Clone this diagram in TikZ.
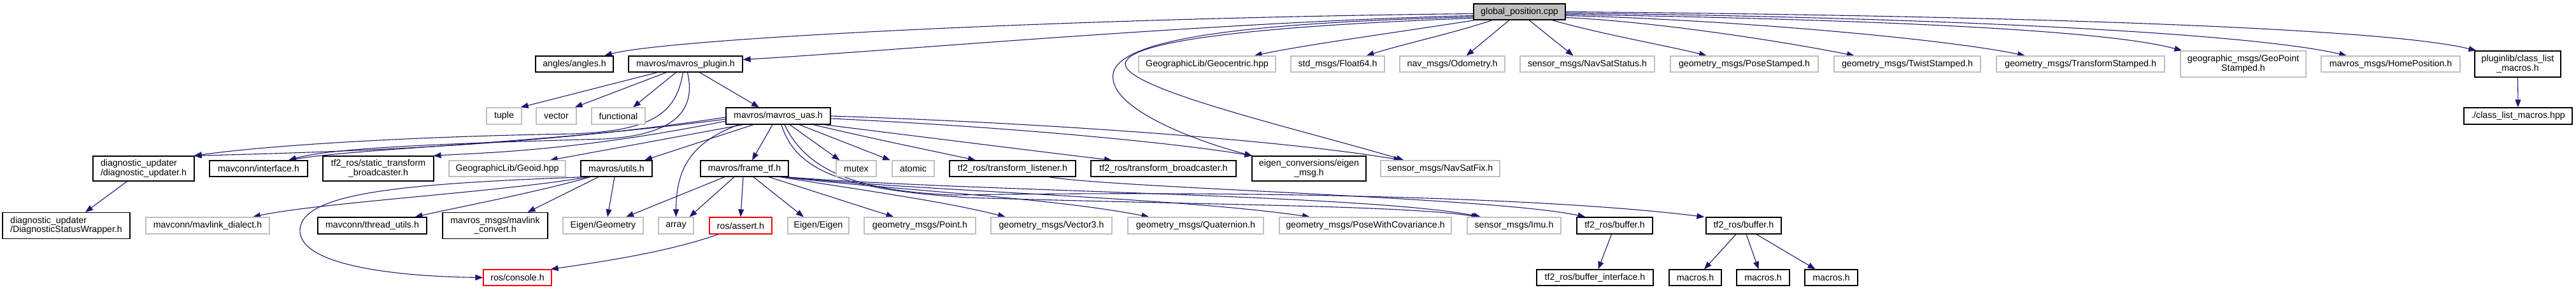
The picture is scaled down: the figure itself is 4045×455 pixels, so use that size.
\documentclass[tikz,border=0pt]{standalone}
\usepackage{fontspec}
\setmainfont{Liberation Sans}
\usetikzlibrary{arrows.meta}
\definecolor{edgeblue}{HTML}{191970}
\definecolor{extgray}{HTML}{BFBFBF}
\definecolor{rootgray}{HTML}{BFBFBF}
\newcommand{\fnt}{\fontsize{14.2pt}{14.5pt}\selectfont}
\pgfdeclarelayer{back}
\pgfdeclarelayer{edges}
\pgfsetlayers{back,edges,main}
\tikzset{
  base/.style={rectangle, inner sep=0pt, font=\fnt, text=black, line width=1.2pt},
  lk/.style={base, draw=black, fill=white},
  ext/.style={base, draw=extgray, fill=white},
  trunc/.style={base, draw=red, fill=white},
  root/.style={base, draw=black, fill=rootgray},
  sz/.style 2 args={minimum width=#1pt, minimum height=#2pt},
  dep/.style={draw=edgeblue, line width=1.1pt, -{Triangle[length=12pt,width=9pt]}},
}
\begin{document}
\begin{tikzpicture}[x=1pt,y=-1pt]
\begin{pgfonlayer}{back}
\fill[white] (0,0) rectangle (4045,455);
\end{pgfonlayer}
\useasboundingbox (0,0) rectangle (4045,455);

% row 0
\node[root,sz={144}{25}] (gp) at (2386,18.5) {global\_position.cpp};
% row 1
\node[lk,sz={122}{25}] (angles) at (902,100.5) {angles/angles.h};
\node[lk,sz={179}{25}] (plugin) at (1076.5,100.5) {mavros/mavros\_plugin.h};
\node[ext,sz={215}{25}] (geocentric) at (1895.5,100.5) {GeographicLib/Geocentric.hpp};
\node[ext,sz={147}{25}] (float64) at (2100.5,100.5) {std\_msgs/Float64.h};
\node[ext,sz={165}{25}] (odom) at (2280.5,100.5) {nav\_msgs/Odometry.h};
\node[ext,sz={211}{25}] (navstatus) at (2492.5,100.5) {sensor\_msgs/NavSatStatus.h};
\node[ext,sz={232}{25}] (posest) at (2739,100.5) {geometry\_msgs/PoseStamped.h};
\node[ext,sz={230}{25}] (twist) at (2995,100.5) {geometry\_msgs/TwistStamped.h};
\node[ext,sz={264}{25}] (transf) at (3267,100.5) {geometry\_msgs/TransformStamped.h};
\node[ext,sz={197}{41},align=center] (geopoint) at (3522.5,100.5) {geographic\_msgs/GeoPoint\\Stamped.h};
\node[ext,sz={218}{25}] (homepos) at (3754,100.5) {mavros\_msgs/HomePosition.h};
\node[lk,sz={135}{41},align=center] (pluginlib) at (3953.5,100.5) {pluginlib/class\_list\\\_macros.h};
% row 2
\node[ext,sz={55}{26}] (tuple) at (791.5,182) {tuple};
\node[ext,sz={63}{26}] (vector) at (873.5,182) {vector};
\node[ext,sz={84}{26}] (functional) at (971,182) {functional};
\node[lk,sz={164}{26}] (uas) at (1222,182) {mavros/mavros\_uas.h};
\node[lk,sz={170}{26}] (classlist) at (3954,182) {./class\_list\_macros.hpp};
% row 3
\node[lk,sz={159}{39},align=left] (diag) at (225.5,264.5) {diagnostic\_updater\\/diagnostic\_updater.h};
\node[lk,sz={154}{25}] (iface) at (406,264.5) {mavconn/interface.h};
\node[lk,sz={174}{39},align=center] (static) at (594,264.5) {tf2\_ros/static\_transform\\\_broadcaster.h};
\node[ext,sz={183}{25}] (geoid) at (796.5,264.5) {GeographicLib/Geoid.hpp};
\node[lk,sz={112}{25}] (utils) at (968,264.5) {mavros/utils.h};
\node[lk,sz={138}{25}] (frametf) at (1169,264.5) {mavros/frame\_tf.h};
\node[ext,sz={63}{25}] (mutex) at (1344.5,264.5) {mutex};
\node[ext,sz={66}{25}] (atomic) at (1434,264.5) {atomic};
\node[lk,sz={198}{25}] (listener) at (1590,264.5) {tf2\_ros/transform\_listener.h};
\node[lk,sz={228}{25}] (bcaster) at (1827,264.5) {tf2\_ros/transform\_broadcaster.h};
\node[lk,sz={179}{39},align=center] (eigconv) at (2055.5,264.5) {eigen\_conversions/eigen\\\_msg.h};
\node[ext,sz={187}{25}] (navfix) at (2261.5,264.5) {sensor\_msgs/NavSatFix.h};
% row 4
\node[lk,sz={200}{41},align=left] (dsw) at (104,354) {diagnostic\_updater\\/DiagnosticStatusWrapper.h};
\node[ext,sz={194}{26}] (dialect) at (326,354) {mavconn/mavlink\_dialect.h};
\node[lk,sz={171}{26}] (thread) at (584.5,354) {mavconn/thread\_utils.h};
\node[lk,sz={165}{41},align=center] (convert) at (777.5,354) {mavros\_msgs/mavlink\\\_convert.h};
\node[ext,sz={126}{26}] (eiggeom) at (947,354) {Eigen/Geometry};
\node[ext,sz={55}{26}] (array) at (1061.5,354) {array};
\node[trunc,sz={98}{26}] (assert) at (1163,354) {ros/assert.h};
\node[ext,sz={96}{26}] (eigeig) at (1285,354) {Eigen/Eigen};
\node[ext,sz={175}{26}] (point) at (1444.5,354) {geometry\_msgs/Point.h};
\node[ext,sz={190}{26}] (vec3) at (1651,354) {geometry\_msgs/Vector3.h};
\node[ext,sz={213}{26}] (quat) at (1877.5,354) {geometry\_msgs/Quaternion.h};
\node[ext,sz={270}{26}] (posecov) at (2144,354) {geometry\_msgs/PoseWithCovariance.h};
\node[ext,sz={147}{26}] (imu) at (2377.5,354) {sensor\_msgs/Imu.h};
\node[lk,sz={119}{26}] (bufA) at (2535.5,354) {tf2\_ros/buffer.h};
\node[lk,sz={118}{26}] (bufB) at (2738,354) {tf2\_ros/buffer.h};
% row 5
\node[trunc,sz={107}{25}] (console) at (812.5,435.5) {ros/console.h};
\node[lk,sz={183}{25}] (bufif) at (2504.5,435.5) {tf2\_ros/buffer\_interface.h};
\node[lk,sz={82}{25}] (mac1) at (2662,435.5) {macros.h};
\node[lk,sz={83}{25}] (mac2) at (2768.5,435.5) {macros.h};
\node[lk,sz={83}{25}] (mac3) at (2875.5,435.5) {macros.h};

\begin{pgfonlayer}{edges}
% from global_position.cpp
\draw[dep] ([xshift=-70pt]gp.south) .. controls (2200,50) and (2050,70) .. ([xshift=74pt]geocentric.north);
\draw[dep] ([xshift=-43pt]gp.south) .. controls (2290,50) and (2200,70) .. ([xshift=45pt]float64.north);
\draw[dep] ([xshift=-16pt]gp.south) -- ([xshift=22pt]odom.north);
\draw[dep] ([xshift=15pt]gp.south) -- ([xshift=-22pt]navstatus.north);
\draw[dep] ([xshift=51pt]gp.south) .. controls (2520,55) and (2620,72) .. ([xshift=-59pt]posest.north);
\draw[dep] ([yshift=-9pt]gp.east) .. controls (2600,34) and (2800,65) .. ([xshift=-83pt]twist.north);
\draw[dep] ([yshift=-6pt]gp.east) .. controls (2700,30) and (3050,60) .. ([xshift=-87pt]transf.north);
\draw[dep] ([yshift=-4pt]gp.east) .. controls (2900,30) and (3300,45) .. ([xshift=3pt]geopoint.north west);
\draw[dep] ([yshift=-2pt]gp.east) .. controls (3100,28) and (3550,55) .. ([xshift=-69pt]homepos.north);
\draw[dep] (gp.east) .. controls (3200,25) and (3750,45) .. ([xshift=3pt]pluginlib.north west);
\draw[dep] ([yshift=-3pt]gp.west) .. controls (1700,28) and (1050,60) .. ([xshift=47pt]angles.north);
\draw[dep] ([yshift=-6pt]gp.west) .. controls (1900,35) and (1400,80) .. ([yshift=7pt]plugin.east);
\draw[dep] ([yshift=-8pt]gp.west) .. controls (2000,35) and (1760,55) .. (1748,115) .. controls (1738,170) and (1880,222) .. ([xshift=1pt]eigconv.north west);
\draw[dep] ([yshift=-10pt]gp.west) .. controls (2000,40) and (1770,62) .. (1767,100) .. controls (1765,140) and (2050,205) .. ([xshift=-57pt]navfix.north);
% from mavros_plugin.h
\draw[dep] ([xshift=-44pt]plugin.south) -- ([xshift=-2pt]tuple.north east);
\draw[dep] ([xshift=-30pt]plugin.south) -- ([xshift=-3pt]vector.north east);
\draw[dep] ([xshift=-15pt]plugin.south) -- ([xshift=23pt]functional.north);
\draw[dep] ([xshift=22pt]plugin.south) -- ([xshift=-30pt]uas.north);
\draw[dep] ([xshift=-4pt]plugin.south) .. controls (1062,175) and (1030,205) .. (900,210) .. controls (650,214) and (420,228) .. ([xshift=-1pt]diag.north east);
\draw[dep] ([xshift=3pt]plugin.south) .. controls (1095,180) and (1050,212) .. (950,218) .. controls (700,225) and (520,232) .. ([xshift=47pt]iface.north);
% from mavros_uas.h
\draw[dep] ([yshift=-2pt]uas.west) .. controls (850,228) and (550,238) .. ([xshift=-1pt]diag.north east);
\draw[dep] ([yshift=-5pt]uas.west) .. controls (850,225) and (560,233) .. ([xshift=47pt]iface.north);
\draw[dep] ([yshift=-8pt]uas.west) .. controls (900,238) and (750,240) .. ([xshift=-1pt]static.north east);
\draw[dep] ([xshift=-55pt]uas.south) -- ([xshift=67pt]geoid.north);
\draw[dep] ([xshift=-39pt]uas.south) -- ([xshift=44pt]utils.north);
\draw[dep] ([xshift=-62pt]uas.south) .. controls (1080,225) and (1062,270) .. (array.north);
\draw[dep] ([xshift=-9pt]uas.south) -- ([xshift=12pt]frametf.north);
\draw[dep] ([xshift=18pt]uas.south) -- ([xshift=-26pt]mutex.north);
\draw[dep] ([xshift=33pt]uas.south) -- ([xshift=-36pt]atomic.north);
\draw[dep] ([xshift=55pt]uas.south) .. controls (1380,220) and (1480,240) .. ([xshift=-58pt]listener.north);
\draw[dep] ([xshift=72pt]uas.south) .. controls (1450,215) and (1650,240) .. ([xshift=-81pt]bcaster.north);
\draw[dep] ([yshift=-4pt]uas.east) .. controls (1600,200) and (1850,225) .. ([xshift=1pt]eigconv.north west);
\draw[dep] (uas.east) .. controls (1700,195) and (2050,225) .. ([xshift=-61pt]navfix.north);
\draw[dep] ([xshift=5pt]uas.south) .. controls (1250,270) and (1330,298) .. (1520,310) .. controls (1900,322) and (2200,322) .. ([xshift=-55pt]imu.north);
\draw[dep] ([xshift=10pt]uas.south) .. controls (1265,265) and (1340,300) .. (1500,306) .. controls (2000,298) and (2450,312) .. ([xshift=-2pt]bufB.north west);
% from mavros/frame_tf.h
\draw[dep] ([xshift=-31pt]frametf.south) -- ([xshift=36pt]eiggeom.north);
\draw[dep] ([xshift=-16pt]frametf.south) -- ([xshift=21pt]array.north);
\draw[dep] ([xshift=-2pt]frametf.south) -- (assert.north);
\draw[dep] ([xshift=14pt]frametf.south) -- ([xshift=-23pt]eigeig.north);
\draw[dep] ([xshift=38pt]frametf.south) -- ([xshift=-41pt]point.north);
\draw[dep] ([xshift=56pt]frametf.south) .. controls (1330,295) and (1480,315) .. ([xshift=-72pt]vec3.north);
\draw[dep] ([xshift=60pt]frametf.south) .. controls (1400,298) and (1650,310) .. ([xshift=-73pt]quat.north);
\draw[dep] ([xshift=63pt]frametf.south) .. controls (1450,300) and (1850,310) .. ([xshift=-87pt]posecov.north);
\draw[dep] ([xshift=66pt]frametf.south) .. controls (1500,300) and (2150,305) .. ([xshift=-52pt]imu.north);
% from mavros/utils.h
\draw[dep] ([xshift=-3pt]utils.south) -- ([xshift=7pt]eiggeom.north);
\draw[dep] ([xshift=-28pt]utils.south) -- ([xshift=51pt]convert.north);
\draw[dep] ([xshift=-41pt]utils.south) .. controls (850,300) and (720,325) .. ([xshift=67pt]thread.north);
\draw[dep] ([xshift=-45pt]utils.south) .. controls (800,300) and (500,318) .. ([xshift=71pt]dialect.north);
\draw[dep] ([xshift=-50pt]utils.south) .. controls (650,288) and (475,300) .. (471,360) .. controls (468,420) and (640,434) .. (console.west);
% others
\draw[dep] ([xshift=-35pt]assert.south) .. controls (1050,395) and (950,410) .. ([xshift=-2pt]console.north east);
\draw[dep] ([xshift=-26pt]diag.south) -- ([xshift=30pt]dsw.north);
\draw[dep] (pluginlib.south) -- (classlist.north);
\draw[dep] ([xshift=57pt]listener.south) .. controls (1750,295) and (2350,310) .. ([xshift=-46pt]bufA.north);
\draw[dep] ([xshift=-5pt]bufA.south) -- ([xshift=5pt]bufif.north);
\draw[dep] ([xshift=-12pt]bufB.south) -- ([xshift=14pt]mac1.north);
\draw[dep] ([xshift=4pt]bufB.south) -- ([xshift=-7pt]mac2.north);
\draw[dep] ([xshift=20pt]bufB.south) -- ([xshift=-25pt]mac3.north);
\end{pgfonlayer}
\end{tikzpicture}
\end{document}
